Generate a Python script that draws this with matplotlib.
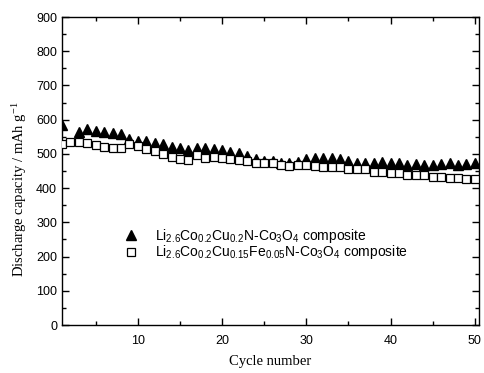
import numpy as np
import matplotlib
matplotlib.use("Agg")
import matplotlib.pyplot as plt
from matplotlib.ticker import MultipleLocator

cycles = list(range(1, 51))
cap_cu = [585, np.nan, 563, 573, 568, 563, 560, 557, 543, 539,
          539, 531, 528, 521, 518, 511, 516, 516, 515, 511,
          505, 502, 494, 485, 480, 479, 474, 473, 477, 485,
          487, 487, 489, 485, 479, 474, 473, 474, 477, 473,
          473, 468, 470, 468, 468, 471, 473, 468, 470, 473]
cap_fe = [528, 536, 536, 531, 526, 519, 516, 516, 528, 523,
          513, 509, 500, 490, 484, 482, 497, 489, 492, 489,
          485, 482, 479, 474, 473, 473, 468, 465, 468, 468,
          465, 461, 461, 461, 455, 455, 455, 448, 447, 443,
          443, 438, 438, 437, 433, 433, 430, 429, 427, 426]

label_cu = r"Li$_{2.6}$Co$_{0.2}$Cu$_{0.2}$N-Co$_3$O$_4$ composite"
label_fe = r"Li$_{2.6}$Co$_{0.2}$Cu$_{0.15}$Fe$_{0.05}$N-Co$_3$O$_4$ composite"

plt.rcParams['font.family'] = ['Liberation Sans', 'DejaVu Sans']
plt.rcParams['mathtext.fontset'] = 'custom'
plt.rcParams['mathtext.rm'] = 'Liberation Sans'
plt.rcParams['mathtext.it'] = 'Liberation Sans'

fig = plt.figure(figsize=(4.84, 3.73), dpi=100)
ax = fig.add_axes([62/484, (373-325)/373, (479-62)/484, (325-17)/373])

ax.plot(cycles, cap_cu, linestyle='none', marker='^', markersize=7,
        color='black', label=label_cu, zorder=3)
ax.plot(cycles, cap_fe, linestyle='none', marker='s', markersize=6,
        markerfacecolor='white', markeredgecolor='black', markeredgewidth=0.9,
        label=label_fe, zorder=4)

ax.set_xlim(1, 50.5)
ax.set_ylim(0, 900)
ax.xaxis.set_major_locator(MultipleLocator(10))
ax.xaxis.set_minor_locator(MultipleLocator(5))
ax.yaxis.set_major_locator(MultipleLocator(100))
ax.yaxis.set_minor_locator(MultipleLocator(50))
ax.tick_params(which='both', direction='in', top=True, right=True,
               labelsize=9, width=1)
ax.tick_params(which='major', length=5)
ax.tick_params(axis='x', which='major', pad=7)
ax.tick_params(which='minor', length=3)
for s in ax.spines.values():
    s.set_linewidth(1)

ax.set_xlabel("Cycle number", family=['Liberation Serif'], fontsize=10.5, labelpad=6)
ax.set_ylabel(r"Discharge capacity / mAh g$^{\mathregular{-1}}$", family=['Liberation Serif'], fontsize=10.5)
ax.yaxis.set_label_coords(-0.08, 0.44)

leg = ax.legend(loc='upper left', bbox_to_anchor=(0.12, 0.337), frameon=False,
                fontsize=10, handletextpad=0.7, labelspacing=-0.1, borderaxespad=0)

fig.savefig("out.png", dpi=100)
